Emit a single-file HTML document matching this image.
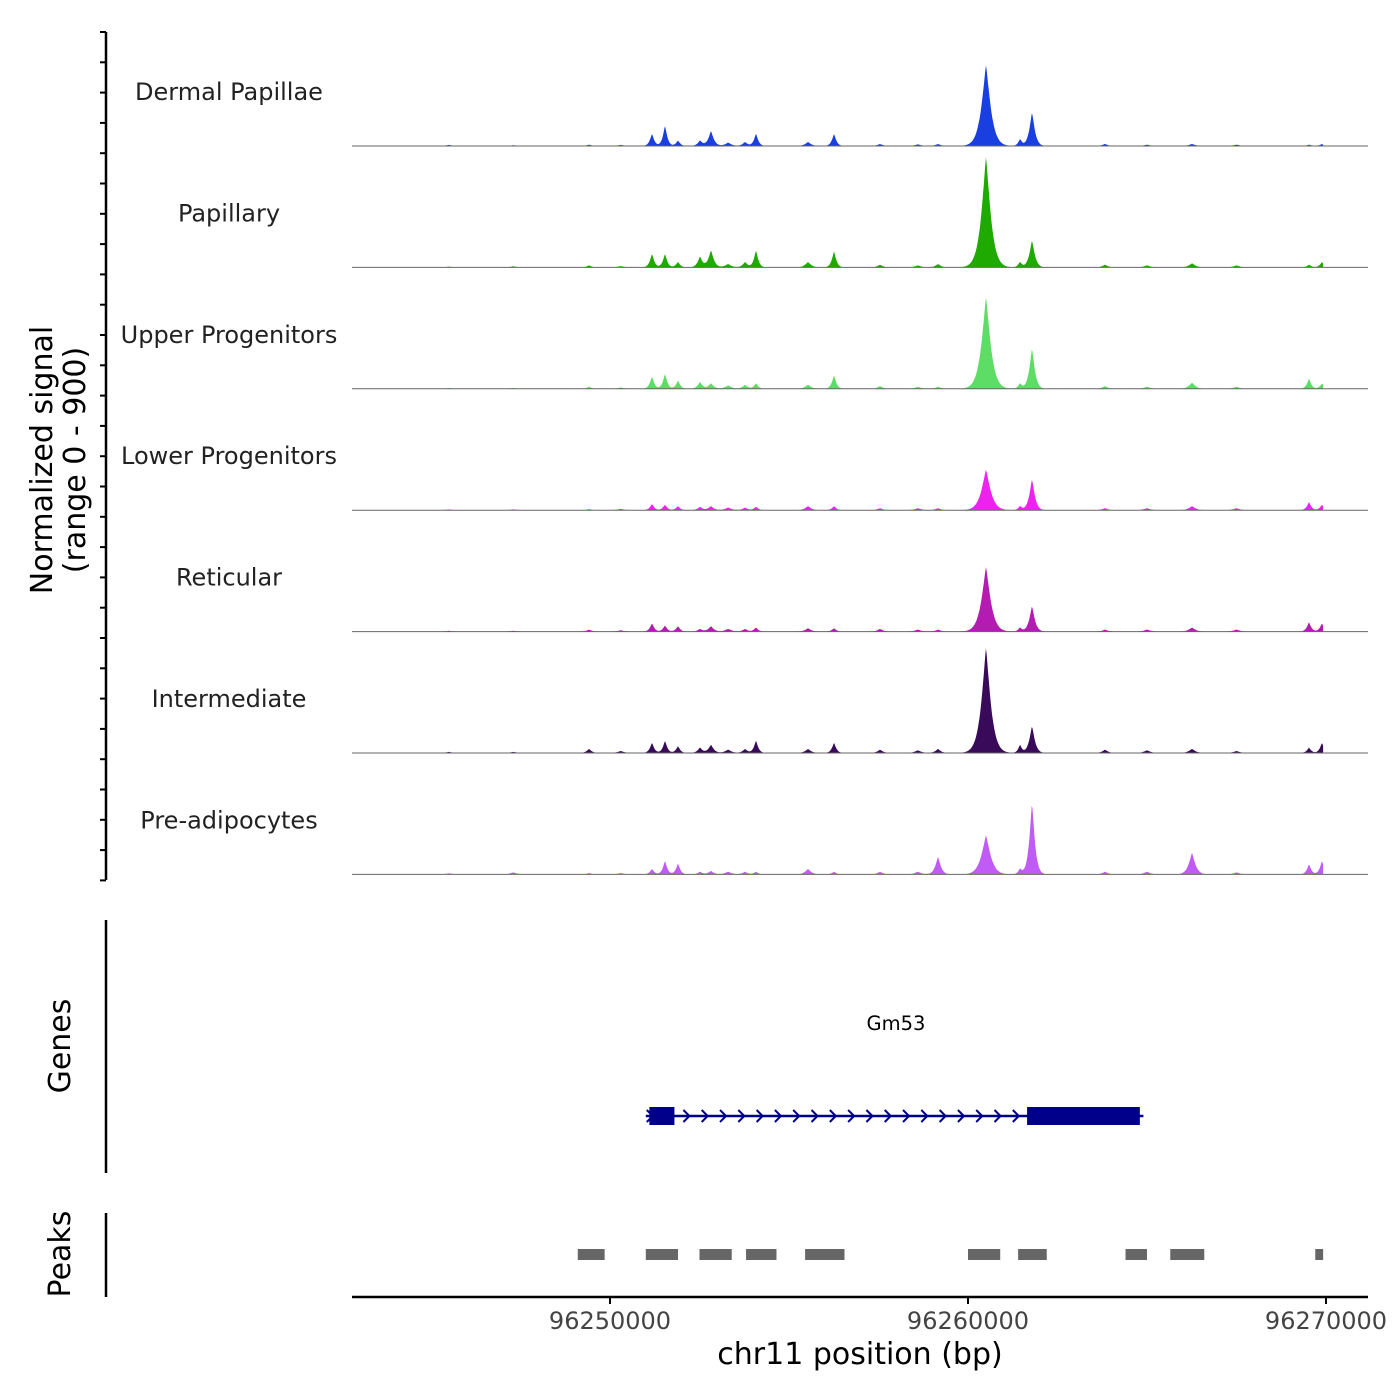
<!DOCTYPE html>
<html><head><meta charset="utf-8"><style>
body{margin:0;background:#fff;}
svg{display:block;font-family:"DejaVu Sans","Liberation Sans",sans-serif;}
</style></head><body>
<svg id="c" width="1400" height="1400" viewBox="0 0 1400 1400"></svg>
<script>
const trackNames=["Dermal Papillae","Papillary","Upper Progenitors","Lower Progenitors","Reticular","Intermediate","Pre-adipocytes"];
const trackColors=["#1a3fe0","#1faa00","#5ddd66","#ee22ee","#b31bb3","#3a0a5a","#c05cf5"];
const peakCenters=[96245500,96247300,96249413,96250300,96251173,96251536,96251899,96252514,96252821,96253300,96253771,96254078,96255531,96256257,96257542,96258600,96259162,96260503,96261453,96261788,96263827,96265000,96266257,96267500,96269525,96269888];
const peakWidths=[120,120,90,120,80,80,80,90,100,120,90,80,110,80,100,120,100,170,70,100,100,120,120,120,80,80];
const sigDermal=[8,6,10,8,90,150,40,40,110,25,30,90,30,90,15,12,15,600,50,250,15,10,15,10,10,15];
const sigPapillary=[6,8,15,10,100,100,40,80,125,25,40,125,40,120,20,15,25,820,40,200,20,15,30,15,20,40];
const sigUpper=[6,6,15,10,90,110,60,50,40,25,30,40,30,100,20,15,15,680,40,300,20,15,45,15,75,40];
const sigLower=[6,6,8,10,45,40,30,25,30,20,20,25,30,30,15,15,15,300,30,230,15,15,30,15,60,40];
const sigReticular=[6,6,15,10,60,45,40,20,40,20,20,30,25,25,20,15,15,480,30,190,15,15,30,15,70,60];
const sigIntermediate=[8,8,30,15,75,90,50,40,60,25,30,90,30,75,25,20,30,780,60,200,25,20,30,15,40,75];
const sigPre=[8,15,10,10,40,100,80,20,25,20,20,20,40,20,20,20,130,290,40,530,20,20,160,15,75,100];
const allSignals=[sigDermal,sigPapillary,sigUpper,sigLower,sigReticular,sigIntermediate,sigPre];
const peakStarts=[96249100,96251000,96252500,96253800,96255450,96260000,96261400,96264400,96265650,96269700];
const peakEnds=[96249850,96251900,96253400,96254650,96256550,96260900,96262200,96265000,96266600,96269920];
const geneStart=96251000, geneEnd=96264900;
const exons=[[96251100,96251800],[96261650,96264800]];
const xTicks=[96250000,96260000,96270000];
const sigStart=96244000, sigEnd=96269920;

const svg=document.getElementById('c');const NS="http://www.w3.org/2000/svg";
function el(t,a,p){const e=document.createElementNS(NS,t);for(const k in a)e.setAttribute(k,a[k]);(p||svg).appendChild(e);return e;}
const X=bp=>610+(bp-96250000)*0.0358;
const trackH=121.4, firstBase=146;
const Y=(i,v)=>firstBase+i*trackH-Math.min(v,900)/900*trackH;

allSignals.forEach((sig,i)=>{
  const g=el('g',{});
  
  
  let d='M'+X(sigStart)+','+Y(i,0);
  for(let bp=sigStart;bp<=sigEnd;bp+=20){
    let v=0;peakCenters.forEach((c,j)=>{const r=Math.abs(bp-c)/peakWidths[j];v+=sig[j]*Math.exp(-Math.pow(r,1.25));});
    d+=' L'+X(bp).toFixed(1)+','+Y(i,v).toFixed(1);
  }
  d+=' L'+X(sigEnd)+','+Y(i,0)+'Z';
  const p=el('path',{d:d,fill:trackColors[i]},g);
  
  const b=el('line',{x1:352,x2:1368,y1:Y(i,0),y2:Y(i,0),stroke:'#666','stroke-width':1},g);
  
  const t=el('text',{x:229,y:Y(i,0)-46,'text-anchor':'middle','font-size':24,fill:'#222'},g);
  t.textContent=trackNames[i];
  
});
// y axis
const ya=el('line',{x1:106,x2:106,y1:32,y2:880,stroke:'#000','stroke-width':2.5});

for(let k=0;k<29;k++){const y=32+k*30.3;el('line',{x1:100,x2:106,y1:y,y2:y,stroke:'#000','stroke-width':2});}
const yt=el('text',{transform:'translate(52,460) rotate(-90)','text-anchor':'middle','font-size':30,fill:'#000'});

yt.innerHTML='<tspan x="0" dy="0">Normalized signal</tspan><tspan x="0" dy="33">(range 0 - 900)</tspan>';
// genes
const ga=el('line',{x1:106,x2:106,y1:920,y2:1173,stroke:'#000','stroke-width':2.5});

const gt=el('text',{transform:'translate(70,1046) rotate(-90)','text-anchor':'middle','font-size':30});gt.textContent='Genes';

const gn=el('text',{x:896,y:1030,'text-anchor':'middle','font-size':19.5});gn.textContent='Gm53';

const gl=el('line',{x1:X(geneStart),x2:X(geneEnd),y1:1116,y2:1116,stroke:'#00008b','stroke-width':2.5});

for(let x=X(geneStart)+4;x<X(geneEnd);x+=18.3){el('path',{d:`M${x-3},${1110} L${x+3},${1116} L${x-3},${1122}`,fill:'none',stroke:'#00008b','stroke-width':2});}
exons.forEach(e=>{const r=el('rect',{x:X(e[0]),y:1107,width:X(e[1])-X(e[0]),height:18,fill:'#00008b'});
});
// peaks
const pa=el('line',{x1:106,x2:106,y1:1213,y2:1297,stroke:'#000','stroke-width':2.5});

const pt=el('text',{transform:'translate(70,1254) rotate(-90)','text-anchor':'middle','font-size':30});pt.textContent='Peaks';

peakStarts.forEach((s,j)=>{const r=el('rect',{x:X(s),y:1249,width:X(peakEnds[j])-X(s),height:11,fill:'#666'});
});
// x axis
const xa=el('line',{x1:352,x2:1368,y1:1297,y2:1297,stroke:'#000','stroke-width':2.5});

xTicks.forEach(t=>{el('line',{x1:X(t),x2:X(t),y1:1297,y2:1304,stroke:'#000','stroke-width':2});
const tl=el('text',{x:X(t),y:1329,'text-anchor':'middle','font-size':24,fill:'#444'});tl.textContent=t;
});
const xt=el('text',{x:860,y:1364,'text-anchor':'middle','font-size':30});xt.textContent='chr11 position (bp)';

</script>
</body></html>
